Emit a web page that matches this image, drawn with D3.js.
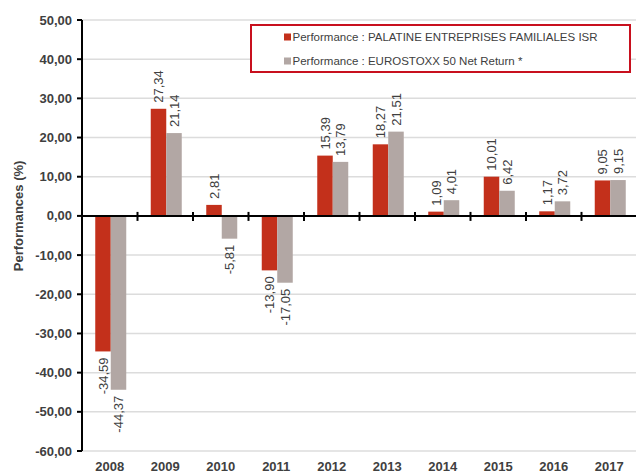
<!DOCTYPE html>
<html>
<head>
<meta charset="utf-8">
<script src="https://cdn.jsdelivr.net/npm/d3@7"></script>
<style>
  body { margin: 0; background: #fff; }
  svg { font-family: "Liberation Sans", Arial, sans-serif; }
</style>
</head>
<body>
<div id="chart"></div>
<script>
// données
const years = ["2008", "2009", "2010", "2011", "2012", "2013", "2014", "2015", "2016", "2017"];
const fund = [-34.59, 27.34, 2.81, -13.90, 15.39, 18.27, 1.09, 10.01, 1.17, 9.05];
const index = [-44.37, 21.14, -5.81, -17.05, 13.79, 21.51, 4.01, 6.42, 3.72, 9.15];
const seriesNames = [
    "Performance : PALATINE ENTREPRISES FAMILIALES ISR",
    "Performance : EUROSTOXX 50 Net Return *"
];
const yTicks = [50, 40, 30, 20, 10, 0, -10, -20, -30, -40, -50, -60];

const width = 636, height = 473;
const colors = ["#c3301b", "#b2a7a4"];
const textColor = "#404040";
const fmt = v => v.toFixed(2).replace(".", ",");

const svg = d3.select("#chart").append("svg")
    .attr("width", width)
    .attr("height", height);

const x = d3.scaleBand().domain(years).range([82, 637]);
const xs = d3.scaleBand().domain([0, 1]).range([0, 31]);
const y = d3.scaleLinear().domain([-60, 50]).range([451, 20]);

// GRILLE
svg.append("g")
    .selectAll("line")
    .data(yTicks)
    .enter().append("line")
    .attr("x1", 82).attr("x2", 636)
    .attr("y1", d => y(d)).attr("y2", d => y(d))
    .attr("stroke", "#dcdcdc")
    .attr("stroke-width", 1.5);

// BARRES
const rows = years.map((yr, i) => ({ year: yr, vals: [fund[i], index[i]] }));
const groups = svg.append("g")
    .selectAll("g")
    .data(rows)
    .enter().append("g")
    .attr("transform", d => `translate(${x(d.year) + (x.bandwidth() - 31) / 2 + 1},0)`);

groups.selectAll("rect")
    .data(d => d.vals.map((v, k) => ({ v, k })))
    .enter().append("rect")
    .attr("x", d => xs(d.k))
    .attr("width", xs.bandwidth())
    .attr("y", d => y(Math.max(0, d.v)))
    .attr("height", d => Math.abs(y(d.v) - y(0)))
    .attr("fill", d => colors[d.k]);

// ÉTIQUETTES DE VALEURS
groups.selectAll("text")
    .data(d => d.vals.map((v, k) => ({ v, k })))
    .enter().append("text")
    .attr("transform", d => {
        const cx = xs(d.k) + xs.bandwidth() / 2;
        const cy = d.v >= 0 ? y(d.v) - 6 : y(d.v) + 6;
        return `translate(${cx},${cy}) rotate(-90)`;
    })
    .attr("text-anchor", d => d.v >= 0 ? "start" : "end")
    .attr("dy", "0.35em")
    .attr("font-size", 13)
    .attr("fill", textColor)
    .text(d => fmt(d.v));

// AXE Y
svg.append("line")
    .attr("x1", 82).attr("x2", 82)
    .attr("y1", y(50)).attr("y2", y(-60))
    .attr("stroke", "#000").attr("stroke-width", 2);

svg.append("g")
    .selectAll("line")
    .data(yTicks)
    .enter().append("line")
    .attr("x1", 77).attr("x2", 82)
    .attr("y1", d => y(d)).attr("y2", d => y(d))
    .attr("stroke", "#000").attr("stroke-width", 2);

svg.append("g")
    .selectAll("text")
    .data(yTicks)
    .enter().append("text")
    .attr("x", 72)
    .attr("y", d => y(d))
    .attr("dy", "0.35em")
    .attr("text-anchor", "end")
    .attr("font-size", 13)
    .attr("font-weight", "bold")
    .attr("fill", textColor)
    .text(d => fmt(d));

svg.append("text")
    .attr("transform", `translate(18,${y(0)}) rotate(-90)`)
    .attr("text-anchor", "middle")
    .attr("dy", "0.35em")
    .attr("font-size", 13)
    .attr("font-weight", "bold")
    .attr("fill", textColor)
    .text("Performances (%)");

// LIGNE ZÉRO
svg.append("line")
    .attr("x1", 82).attr("x2", 636)
    .attr("y1", y(0)).attr("y2", y(0))
    .attr("stroke", "#000").attr("stroke-width", 2);

svg.append("g")
    .selectAll("line")
    .data(years.slice(1))
    .enter().append("line")
    .attr("x1", d => x(d)).attr("x2", d => x(d))
    .attr("y1", y(0) - 4).attr("y2", y(0) + 5)
    .attr("stroke", "#000").attr("stroke-width", 2);

// LIBELLÉS X
svg.append("g")
    .selectAll("text")
    .data(years)
    .enter().append("text")
    .attr("x", d => x(d) + x.bandwidth() / 2)
    .attr("y", 466)
    .attr("dy", "0.35em")
    .attr("text-anchor", "middle")
    .attr("font-size", 13)
    .attr("font-weight", "bold")
    .attr("fill", textColor)
    .text(d => d);

// LÉGENDE
const legend = svg.append("g");
legend.append("rect")
    .attr("x", 251).attr("y", 25)
    .attr("width", 379).attr("height", 47)
    .attr("fill", "#fff")
    .attr("stroke", "#c8101e")
    .attr("stroke-width", 2);

const items = legend.selectAll("g.item")
    .data(seriesNames)
    .enter().append("g")
    .attr("class", "item")
    .attr("transform", (d, i) => `translate(284,${37 + i * 24})`);

items.append("rect")
    .attr("x", 0).attr("y", -3.5)
    .attr("width", 7).attr("height", 7)
    .attr("fill", (d, i) => colors[i]);

items.append("text")
    .attr("x", 8.5)
    .attr("dy", "0.35em")
    .attr("font-size", 11.5)
    .attr("fill", textColor)
    .text(d => d);
</script>
</body>
</html>
